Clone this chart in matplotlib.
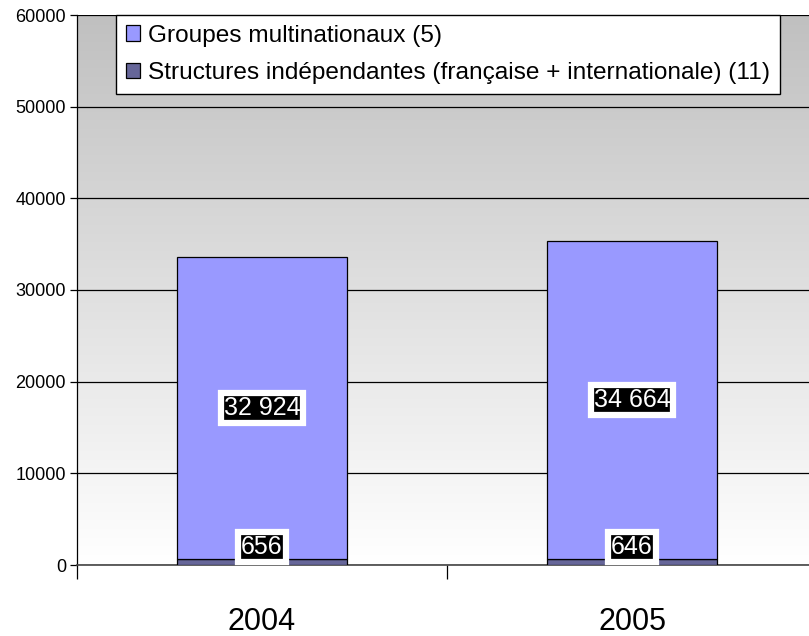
import numpy as np
import matplotlib
matplotlib.use("Agg")
import matplotlib.pyplot as plt
from matplotlib.colors import LinearSegmentedColormap

years = ["2004", "2005"]
independantes = [656, 646]
multinationaux = [32924, 34664]
series_labels = ["Groupes multinationaux (5)",
                 "Structures indépendantes (française + internationale) (11)"]
yticks = [0, 10000, 20000, 30000, 40000, 50000, 60000]

plt.rcParams['font.family'] = ['Liberation Sans', 'DejaVu Sans']

W, H = 809, 636
fig = plt.figure(figsize=(W / 100, H / 100), dpi=100)
ax = fig.add_axes([77 / W, 71 / H, 740 / W, 550 / H])

# gradient background
grad = np.linspace(0, 1, 256).reshape(-1, 1)
cmap = LinearSegmentedColormap.from_list("bg", ["#FFFFFF", "#C0C0C0"])
ax.imshow(grad, extent=[-0.5, 1.5, 0, 60000], origin="lower", aspect="auto",
          cmap=cmap, zorder=0)

x = np.arange(len(years))
w = 0.46
b1 = ax.bar(x, independantes, w, color="#666699", edgecolor="black", linewidth=0.9, zorder=3)
b2 = ax.bar(x, multinationaux, w, bottom=independantes, color="#9999FF",
            edgecolor="black", linewidth=0.9, zorder=3)

bbox = dict(boxstyle="square,pad=0.12", facecolor="black", edgecolor="white", linewidth=4.5)
for i in range(len(years)):
    ax.annotate(f"{multinationaux[i]:,}".replace(",", " "),
                (x[i], independantes[i] + multinationaux[i] / 2),
                ha="center", va="center", color="white", fontsize=18, bbox=bbox, zorder=5)
    ax.annotate(f"{independantes[i]}", (x[i], independantes[i] / 2),
                xytext=(0, 11), textcoords="offset points",
                ha="center", va="center", color="white", fontsize=18, bbox=bbox, zorder=5)

ax.set_xlim(-0.5, 1.5)
ax.set_ylim(0, 60000)
ax.set_yticks(yticks)
ax.set_yticklabels([str(v) for v in yticks], fontsize=13)
ax.yaxis.grid(True, color="black", linewidth=0.9, zorder=1)
ax.set_axisbelow(True)
ax.tick_params(axis="y", length=5, width=0.9, pad=3)

ax.set_xticks(x)
ax.set_xticklabels(years, fontsize=22)
ax.tick_params(axis="x", which="major", length=0, pad=30)
ax.set_xticks([-0.5, 0.5, 1.5], minor=True)
ax.tick_params(axis="x", which="minor", length=10, width=0.9, direction="out")

for s in ["top", "right"]:
    ax.spines[s].set_visible(False)
ax.spines["left"].set_linewidth(0.9)
ax.spines["bottom"].set_color("#444444")
ax.spines["bottom"].set_linewidth(1.2)

leg = fig.legend([b2, b1], series_labels, loc="upper left",
                 bbox_to_anchor=(116 / W, 1 - 15 / H), bbox_transform=fig.transFigure,
                 fontsize=17.6, frameon=True, fancybox=False, borderaxespad=0,
                 handlelength=0.6, handleheight=0.6, handletextpad=0.32,
                 labelspacing=0.62, borderpad=0.4)
leg.get_frame().set_edgecolor("black")
leg.get_frame().set_linewidth(1.0)
leg.get_frame().set_facecolor("white")
leg.get_frame().set_alpha(1)

fig.savefig("out.png", dpi=100)
